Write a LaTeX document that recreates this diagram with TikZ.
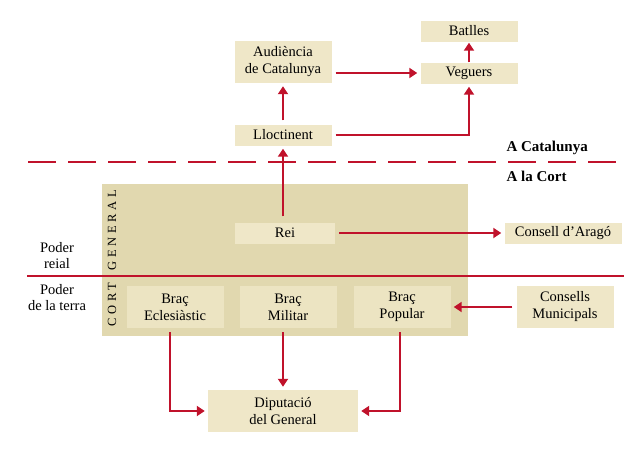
\documentclass[tikz,border=0pt]{standalone}
\usepackage{fontspec}
\setmainfont{Liberation Serif}
\usetikzlibrary{arrows.meta}

\definecolor{cortred}{HTML}{C0122B}
\definecolor{boxbeige}{HTML}{EFE7C8}
\definecolor{cortbeige}{HTML}{E1D8AF}
\definecolor{innerbeige}{HTML}{ECE4C2}

\begin{document}
\begin{tikzpicture}[
    x=1pt, y=-1pt,
    box/.style={fill=boxbeige, minimum width=97pt, minimum height=21pt, inner sep=0pt,
        align=center, font=\fontsize{14.5}{17}\selectfont},
    tallbox/.style={box, minimum height=42pt},
    brac/.style={tallbox, fill=innerbeige},
    arr/.style={draw=cortred, line width=2.4pt, -{Triangle[length=8pt,width=10pt]},
        shorten >=3pt, shorten <=4pt},
    sidelbl/.style={align=center, font=\fontsize{14.5}{16}\selectfont},
    zonelbl/.style={anchor=west, font=\fontsize{15}{17}\selectfont\bfseries}
]
    \useasboundingbox (0,0) rectangle (640,453);

    % la Cort General
    \node[fill=cortbeige, minimum width=366pt, minimum height=152pt, inner sep=0pt] (cort) at (285,260) {};
    \node[rotate=90, font=\fontsize{12.5}{12}\selectfont\addfontfeatures{LetterSpace=30}] (cortlbl) at (112,258) {CORT\kern 12pt GENERAL};

    % separacions
    \draw[cortred, line width=2.2pt, dash pattern=on 28pt off 12pt] (28,162) -- (622,162);
    \draw[cortred, line width=2.2pt] (27,276) -- (624,276);
    \node[zonelbl] (acat) at (503,148) {A Catalunya};
    \node[zonelbl] (acort) at (503,176) {A la Cort};
    \node[sidelbl] (preial) at (57,256) {Poder\\reial};
    \node[sidelbl] (pterra) at (57,298) {Poder\\de la terra};

    % a Catalunya
    \node[box] (batlles) at (469,31) {Batlles};
    \node[box] (veguers) at (469,73) {Veguers};
    \node[tallbox] (aud) at (283,62) {Audiència\\de Catalunya};
    \node[box] (lloc) at (283,135) {Lloctinent};

    % a la Cort
    \node[box, minimum width=100pt] (rei) at (285,233) {Rei};
    \node[box, minimum width=117pt] (arago) at (563,233) {Consell d'Aragó};
    \node[brac] (ecl) at (175,307) {Braç\\Eclesiàstic};
    \node[brac] (mil) at (288,307) {Braç\\Militar};
    \node[brac] (pop) at (402,307) {Braç\\Popular};
    \node[tallbox] (muni) at (565,307) {Consells\\Municipals};
    \node[tallbox, minimum width=150pt] (dip) at (283,411) {Diputació\\del General};

    % fletxes
    \draw[arr, shorten <=0pt, shorten >=1pt] (veguers) -- (batlles);
    \draw[arr] (aud.east |- veguers.west) -- (veguers.west);
    \draw[arr] (lloc) -- (aud);
    \draw[arr] (lloc.east) -| (veguers.south);
    \draw[arr, shorten <=6pt] (rei.north -| lloc) -- (lloc.south);
    \draw[arr] (rei.east) -- (arago.west);
    \draw[arr] (muni.west) -- (pop.east);
    \draw[arr] ([xshift=-5pt]ecl.south) |- (dip.west);
    \draw[arr] (mil.south -| dip) -- (dip.north);
    \draw[arr] ([xshift=-2pt]pop.south) |- (dip.east);
\end{tikzpicture}
\end{document}
